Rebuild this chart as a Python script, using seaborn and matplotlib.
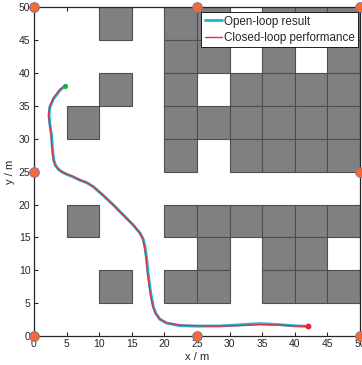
import matplotlib
matplotlib.use("Agg")
import matplotlib.pyplot as plt
from matplotlib.patches import Rectangle
import seaborn as sns

# Occupied 5 m x 5 m grid cells (lower-left corners)
obstacle_x = [10, 20, 25, 35, 40, 45,
              20, 25, 35, 45,
              10, 20, 30, 35, 40, 45,
              5, 20, 25, 30, 35, 40, 45,
              20, 30, 35, 40, 45,
              5, 20, 25, 30, 35, 40, 45,
              25, 35, 40,
              10, 20, 25, 35, 40, 45]
obstacle_y = [45, 45, 45, 45, 45, 45,
              40, 40, 40, 40,
              35, 35, 35, 35, 35, 35,
              30, 30, 30, 30, 30, 30, 30,
              25, 25, 25, 25, 25,
              15, 15, 15, 15, 15, 15, 15,
              10, 10, 10,
              5, 5, 5, 5, 5, 5]
cell_size = 5

# Reference anchor points on the map boundary
anchor_x = [0, 25, 50, 0, 50, 0, 25, 50]
anchor_y = [0, 0, 0, 25, 25, 50, 50, 50]

# Open-loop trajectory
open_x = [4.8, 4.0, 3.0, 2.45, 2.3, 2.45, 2.7, 2.8, 2.92, 3.05, 3.3, 3.75, 4.3,
          4.95, 6.0, 7.05, 8.1, 9.1, 10.6, 12.2, 13.7, 15.2, 16.3, 16.8, 17.1,
          17.3, 17.5, 17.9, 18.3, 18.7, 19.3, 20.35, 22.4, 25.0, 28.5, 31.6,
          34.7, 37.7, 39.8, 42.07]
open_y = [38.1, 37.4, 36.1, 34.85, 33.6, 32.1, 30.5, 29.0, 27.7, 26.7, 25.95,
          25.35, 24.95, 24.62, 24.2, 23.7, 23.3, 22.7, 21.4, 19.9, 18.4, 16.9,
          15.6, 14.6, 13.1, 11.5, 9.5, 6.5, 4.45, 3.4, 2.55, 1.95, 1.57, 1.5,
          1.52, 1.7, 1.88, 1.72, 1.55, 1.45]

# Closed-loop tracking result
closed_x = [4.8, 3.95, 2.95, 2.4, 2.25, 2.4, 2.62, 2.72, 2.84, 2.97, 3.22, 3.67,
            4.22, 4.88, 5.93, 6.98, 8.03, 9.03, 10.52, 12.12, 13.62, 15.12,
            16.22, 16.72, 17.02, 17.22, 17.42, 17.82, 18.22, 18.62, 19.24,
            20.3, 22.35, 25.0, 28.5, 31.6, 34.7, 37.7, 39.8, 42.07]
closed_y = [38.1, 37.45, 36.15, 34.9, 33.65, 32.15, 30.55, 29.05, 27.75, 26.77,
            26.03, 25.43, 25.03, 24.7, 24.28, 23.78, 23.38, 22.78, 21.48, 19.98,
            18.48, 16.98, 15.68, 14.66, 13.15, 11.55, 9.55, 6.55, 4.52, 3.47,
            2.62, 2.03, 1.64, 1.56, 1.5, 1.58, 1.72, 1.66, 1.52, 1.45]

sns.set_style("ticks")
plt.rcParams["font.family"] = ["Liberation Sans", "DejaVu Sans"]

fig = plt.figure(figsize=(3.62, 3.65), dpi=100)
ax = fig.add_axes([0.0939, 0.0795, 0.9006, 0.9005])

for ox, oy in zip(obstacle_x, obstacle_y):
    ax.add_patch(Rectangle((ox, oy), cell_size, cell_size, facecolor="#808083",
                           edgecolor="#4f4f52", linewidth=0.8, zorder=1))

sns.lineplot(x=open_x, y=open_y, sort=False, estimator=None, ax=ax,
             color="#1fb6d8", linewidth=2.1, label="Open-loop result", zorder=3)
sns.lineplot(x=closed_x, y=closed_y, sort=False, estimator=None, ax=ax,
             color="#ec2a3a", linewidth=1.0, label="Closed-loop performance",
             zorder=4)

sns.scatterplot(x=open_x[:1], y=open_y[:1], ax=ax, color="#1fa84c", s=14,
                linewidth=0, zorder=5)
sns.scatterplot(x=closed_x[-1:], y=closed_y[-1:], ax=ax, color="#e8263a", s=18,
                linewidth=0, zorder=5)
sns.scatterplot(x=anchor_x, y=anchor_y, ax=ax, color="#f26a36", s=50,
                edgecolor="#7b74a8", linewidth=0.6, zorder=6, clip_on=False)

ax.set_xlim(0, 50)
ax.set_ylim(0, 50)
ticks = [0, 5, 10, 15, 20, 25, 30, 35, 40, 45, 50]
ax.set_xticks(ticks)
ax.set_yticks(ticks)
ax.tick_params(direction="in", length=3, width=0.8, top=True, right=True,
               labelsize=7.5, colors="#262626", pad=2.5)
for sp in ax.spines.values():
    sp.set_color("#262626")
    sp.set_linewidth(0.9)
    sp.set_visible(True)
ax.set_xlabel("x / m", fontsize=8, color="#262626", labelpad=2)
ax.set_ylabel("y / m", fontsize=8, color="#262626", labelpad=3)

leg = ax.legend(loc="upper right", bbox_to_anchor=(0.9939, 0.9857),
                borderaxespad=0, fontsize=8.4, frameon=True, fancybox=False,
                framealpha=1, edgecolor="black", handlelength=1.5,
                handletextpad=0.1, borderpad=0.3, labelspacing=0.35)
leg.get_frame().set_linewidth(0.6)
leg.set_zorder(10)

fig.savefig("out.png", dpi=100)
